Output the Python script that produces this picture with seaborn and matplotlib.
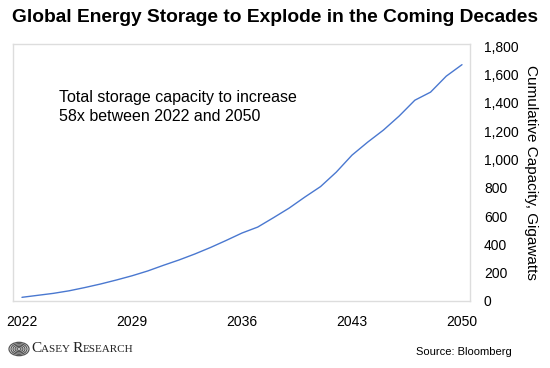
import numpy as np
import pandas as pd
import matplotlib
matplotlib.use('Agg')
import matplotlib.pyplot as plt
import seaborn as sns
from matplotlib.patches import Circle
from matplotlib.offsetbox import TextArea, HPacker, AnnotationBbox

# số liệu (GW tích lũy)
years = list(range(2022, 2051))
capacity = [26, 40, 54, 72, 95, 120, 148, 178, 212, 252, 290, 332, 378, 428, 480,
            522, 588, 656, 734, 808, 910, 1030, 1122, 1207, 1306, 1418, 1475, 1588, 1669]
xticks = [2022, 2029, 2036, 2043, 2050]
yticks = [0, 200, 400, 600, 800, 1000, 1200, 1400, 1600, 1800]

df = pd.DataFrame({'year': years, 'capacity': capacity})

sns.set_theme(style='white')
plt.rcParams['font.family'] = ['Liberation Sans', 'DejaVu Sans']
plt.rcParams['text.color'] = 'black'

fig = plt.figure(figsize=(5.5, 3.68), dpi=100)
ax = fig.add_axes([13/550, 67/368, 457/550, 257/368])

sns.lineplot(data=df, x='year', y='capacity', color='#4a78d0', linewidth=1.0, ax=ax)

ax.set_xlim(2021.43, 2050.51)
ax.set_ylim(0, 1815)
ax.set_xticks(xticks)
ax.set_xticklabels([str(x) for x in xticks], fontsize=10)
ax.set_yticks(yticks)
ax.set_yticklabels([f'{v:,}' for v in yticks], fontsize=10)
ax.yaxis.tick_right()
ax.yaxis.set_label_position('right')
ax.tick_params(axis='both', length=0, pad=10, colors='black')
ax.set_xlabel('')
ax.set_ylabel('Cumulative Capacity, Gigawatts', rotation=270, fontsize=11, labelpad=14, color='black')
for s in ax.spines.values():
    s.set_color('#dddddd')
    s.set_linewidth(1.0)

ax.text(0.10, 0.82, 'Total storage capacity to increase\n58x between 2022 and 2050',
        transform=ax.transAxes, fontsize=11.5, va='top', ha='left', linespacing=1.35)

fig.text(0.5, 0.952, 'Global Energy Storage to Explode in the Coming Decades',
         ha='center', va='center', fontsize=13.8, fontweight='bold')

# logo Casey Research
for r in [10, 8, 6, 4, 2]:
    fig.patches.append(Circle((19/550, 1 - 349/368), r/550, transform=fig.transFigure,
                              fill=False, edgecolor='#555555', linewidth=0.9))
parts = [('C', 11), ('ASEY ', 8), ('R', 11), ('ESEARCH', 8)]
boxes = [TextArea(t, textprops=dict(family='Liberation Serif', fontsize=fs, color='#222222'))
         for t, fs in parts]
logo = HPacker(children=boxes, align='baseline', pad=0, sep=0)
ab = AnnotationBbox(logo, (31/550, 1 - 349/368), xycoords='figure fraction',
                    box_alignment=(0, 0.5), frameon=False, pad=0)
fig.add_artist(ab)
fig.text(512/550, 1 - 352/368, 'Source: Bloomberg', fontsize=8, ha='right', va='center')

fig.savefig('out.png', dpi=100)
